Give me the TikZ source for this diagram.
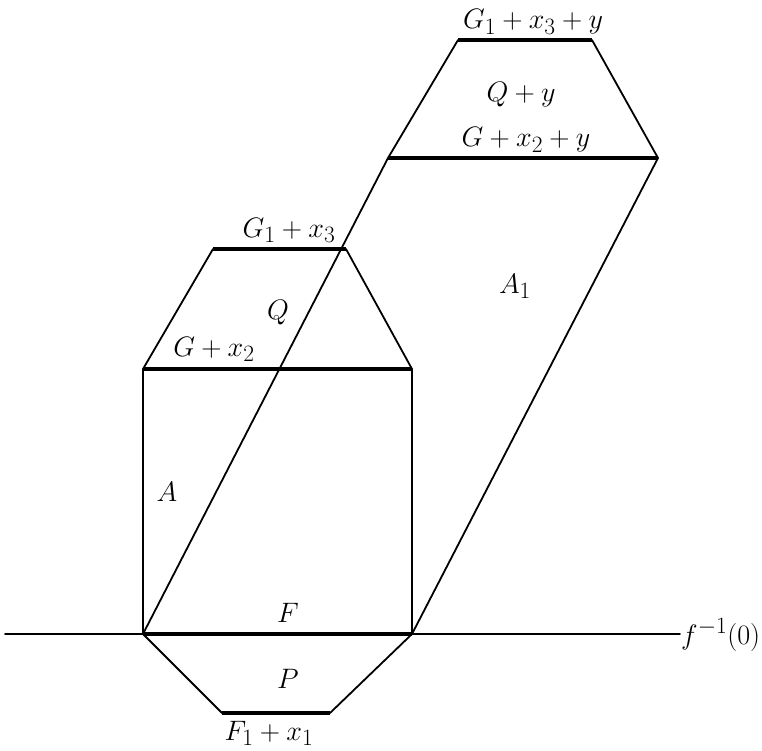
\documentclass[tikz,border=0pt]{standalone}
\newcommand{\mylbl}[1]{\scalebox{1.13}{$#1$}}
\begin{document}
\begin{tikzpicture}[x=1pt,y=-1pt,
  thin line/.style={line width=1.8pt,line cap=round,line join=round},
  thick line/.style={line width=3.8pt},
  lab/.style={font=\fontsize{24.88}{30}\selectfont,inner sep=0pt,anchor=base}]
\useasboundingbox (0,0) rectangle (762,751);
% coordinates
\coordinate (L0) at (143,634);
\coordinate (R0) at (412,634);
\coordinate (P1) at (222,713);
\coordinate (P2) at (330,713);
\coordinate (GL) at (143,369);
\coordinate (GR) at (412,369);
\coordinate (QL) at (213,249);
\coordinate (QR) at (346,249);
\coordinate (UL) at (388,158);
\coordinate (UR) at (658,158);
\coordinate (TL) at (458,40);
\coordinate (TR) at (592,40);
\coordinate (H0) at (5,634);
\coordinate (H1) at (680,634);
% thin lines
\draw[thin line] (H0) -- (H1);
\draw[thin line] (P1) -- (L0) -- (GL) -- (QL);
\draw[thin line] (P2) -- (R0) -- (GR) -- (QR);
\draw[thin line] (L0) -- (UL) -- (TL);
\draw[thin line] (R0) -- (UR) -- (TR);
% thick lines
\draw[thick line] (L0) -- (R0);
\draw[thick line] (P1) -- (P2);
\draw[thick line] (GL) -- (GR);
\draw[thick line] (QL) -- (QR);
\draw[thick line] (UL) -- (UR);
\draw[thick line] (TL) -- (TR);
% labels
\node[lab] (lG1x3y) at (533,29) {\mylbl{G_1+x_3+y}};
\node[lab] (lQy) at (521,102) {\mylbl{Q+y}};
\node[lab] (lGx2y) at (526,147) {\mylbl{G+x_2+y}};
\node[lab] (lG1x3) at (289,237) {\mylbl{G_1+x_3}};
\node[lab] (lQ) at (278,319) {\mylbl{Q}};
\node[lab] (lGx2) at (214,356) {\mylbl{G+x_2}};
\node[lab] (lA1) at (515,293) {\mylbl{A_1}};
\node[lab] (lA) at (167,501) {\mylbl{A}};
\node[lab] (lF) at (288,622) {\mylbl{F}};
\node[lab] (lP) at (288,688) {\mylbl{P}};
\node[lab] (lF1x1) at (269,740) {\mylbl{F_1+x_1}};
\node[lab,anchor=base west] (lf) at (681,644) {\mylbl{f^{-1}(0)}};
\end{tikzpicture}
\end{document}
